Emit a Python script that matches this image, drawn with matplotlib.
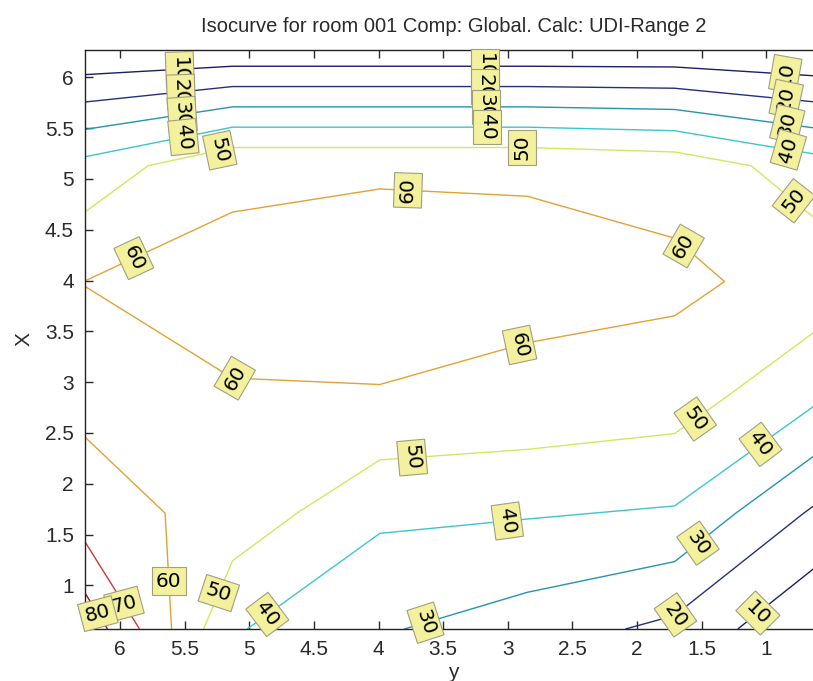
import matplotlib
matplotlib.use("Agg")
import matplotlib.pyplot as plt
import numpy as np

plt.rcParams["font.family"] = ["Liberation Sans", "DejaVu Sans"]

# grid of calculation points (room coordinates, m)
y_pts = [0.57, 1.71, 2.85, 3.99, 5.13, 6.27]   # horizontal axis "y"
x_pts = [0.57, 1.71, 2.85, 3.99, 5.13, 6.27]   # vertical axis "X"

# UDI-Range 2 values (%), one row per X value (bottom to top), columns follow y_pts
udi_x057 = [0.0, 17.5, 25.0, 31.0, 41.0, 87.0]
udi_x171 = [17.3, 39.0, 40.8, 41.9, 56.3, 64.4]
udi_x285 = [40.6, 55.0, 57.5, 59.5, 59.7, 57.7]
udi_x399 = [55.9, 62.1, 62.8, 64.0, 61.5, 60.1]
udi_x513 = [44.0, 56.5, 59.0, 59.0, 59.0, 43.3]
udi_x627 = [0.0, 2.0, 2.0, 2.0, 2.0, 1.0]

levels = [10, 20, 30, 40, 50, 60, 70, 80]
level_colors = ["#1b1d68", "#24307e", "#2395ad", "#3cc6cc",
                "#d6e65c", "#e3a234", "#cc3a30", "#9c1010"]

# where the inline labels sit (data coords) and how they are turned
label_spots = [
    (5.536, 6.059, -88), (5.528, 5.852, -88), (5.520, 5.646, -86), (5.512, 5.429, -84),
    (5.226, 5.272, -78),
    (3.175, 6.079, -90), (3.175, 5.882, -90), (3.167, 5.685, -90), (3.159, 5.488, -90),
    (2.889, 5.291, 90), (3.771, 4.917, 88),
    (0.853, 6.059, 80), (0.845, 5.813, 78), (0.837, 5.557, 76), (0.830, 5.291, 74),
    (0.799, 4.770, 52),
    (5.899, 4.238, -65), (5.110, 3.096, 60), (1.642, 4.337, 60), (2.904, 3.343, -78),
    (3.740, 2.260, -85), (3.005, 1.650, -82), (3.663, 0.744, -72),
    (1.549, 2.634, -55), (1.046, 2.388, -53), (1.534, 1.423, -55),
    (1.720, 0.734, -55), (1.070, 0.734, -45),
    (4.878, 0.744, -53), (5.249, 0.931, -18), (5.613, 1.039, 0),
    (5.946, 0.833, 15), (6.155, 0.734, 15),
]

Z = np.array([udi_x057, udi_x171, udi_x285, udi_x399, udi_x513, udi_x627])

fig = plt.figure(figsize=(8.13, 6.81), dpi=100)
ax = fig.add_axes([0.1046, 0.0764, 0.9065, 0.8502])
ax.set_xlim(max(y_pts), min(y_pts))
ax.set_ylim(min(x_pts), max(x_pts))

cs = ax.contour(y_pts, x_pts, Z, levels=levels, colors=level_colors, linewidths=1.0)

texts = cs.clabel(manual=[(u, v) for u, v, _ in label_spots], inline=False,
                  fmt="%d", fontsize=14.5, colors="black")
for t, (_, _, rot) in zip(texts, label_spots):
    t.set_rotation(rot)
    t.set_family(["DejaVu Sans"])
    t.set_clip_on(False)
    t.set_bbox(dict(boxstyle="square,pad=0.22", facecolor="#f3f19e",
                    edgecolor="#a09f80", linewidth=0.8))

ticks = np.arange(1, 6.01, 0.5)
ax.set_xticks(ticks)
ax.set_yticks(ticks)
ax.set_xticklabels([f"{v:g}" for v in ticks])
ax.set_yticklabels([f"{v:g}" for v in ticks])
ax.tick_params(direction="in", length=6, width=1, labelsize=15, pad=8,
               colors="#2a2a2a", top=True, right=True)
for s in ax.spines.values():
    s.set_linewidth(1.0)
    s.set_color("#222222")

ax.set_xlabel("y", fontsize=15, color="#2a2a2a", labelpad=3)
ax.set_ylabel("X", fontsize=15, color="#2a2a2a", labelpad=8)
ax.set_title("Isocurve for room 001 Comp: Global. Calc: UDI-Range 2",
             fontsize=14.5, color="#2a2a2a", pad=13)

fig.savefig("out.png", dpi=100)
